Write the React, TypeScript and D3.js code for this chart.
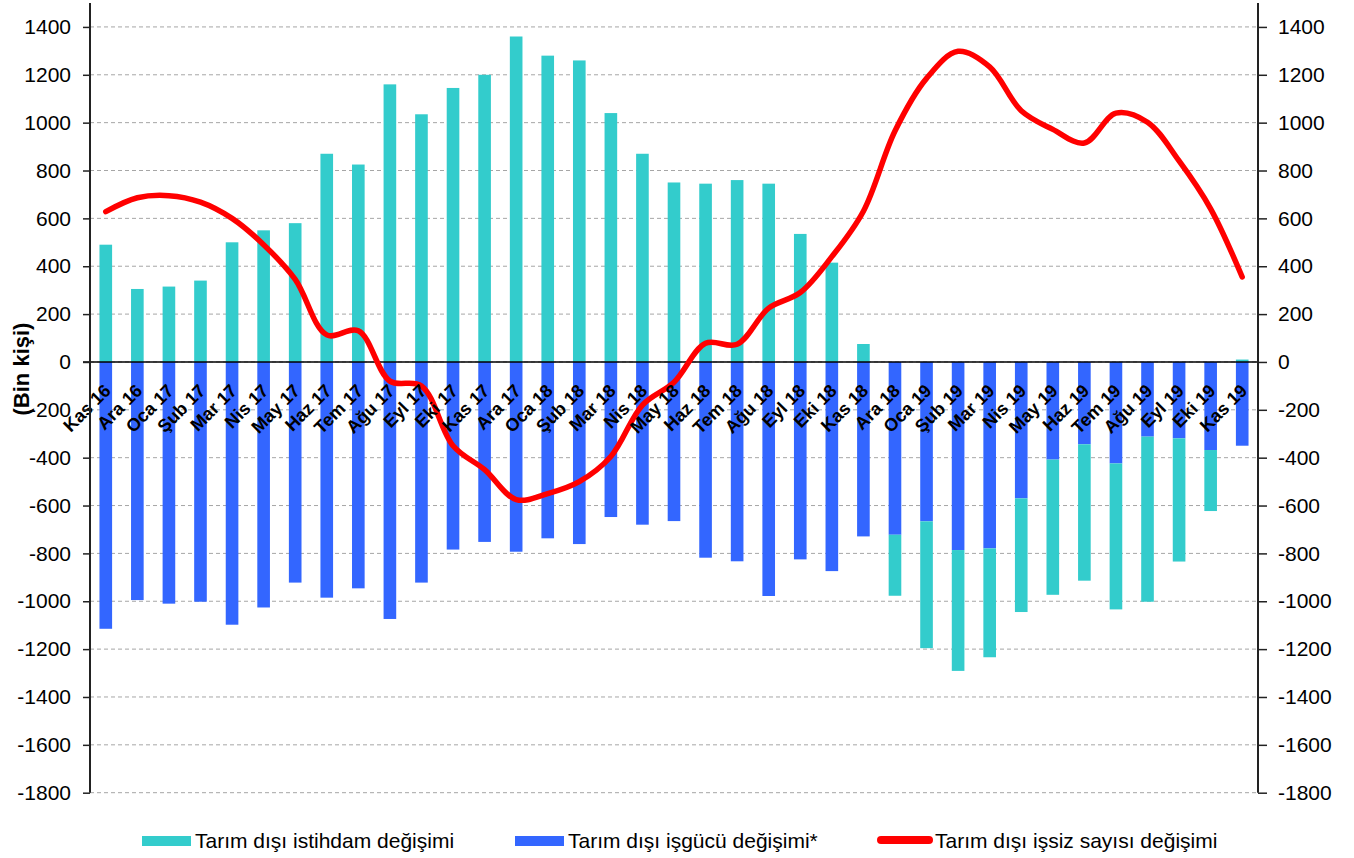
import { useEffect, useRef } from "react";
import * as d3 from "d3";

const months = [
  "Kas 16", "Ara 16", "Oca 17", "Şub 17", "Mar 17", "Nis 17", "May 17", "Haz 17",
  "Tem 17", "Ağu 17", "Eyl 17", "Eki 17", "Kas 17", "Ara 17", "Oca 18", "Şub 18",
  "Mar 18", "Nis 18", "May 18", "Haz 18", "Tem 18", "Ağu 18", "Eyl 18", "Eki 18",
  "Kas 18", "Ara 18", "Oca 19", "Şub 19", "Mar 19", "Nis 19", "May 19", "Haz 19",
  "Tem 19", "Ağu 19", "Eyl 19", "Eki 19", "Kas 19",
];

// Tarım dışı istihdam değişimi (teal)
const employment = [
  490, 305, 315, 340, 500, 550, 580, 870, 825, 1160, 1035, 1145, 1200, 1360, 1280, 1260,
  1040, 870, 750, 745, 760, 745, 535, 415, 75, -255, -530, -505, -455, -475, -565, -570,
  -610, -690, -515, -255, 10,
];

// Tarım dışı işgücü değişimi* (blue, plotted with reversed sign)
const labourForce = [
  -1115, -995, -1010, -1002, -1098, -1026, -922, -985, -946, -1074, -922, -784, -752, -793,
  -737, -761, -648, -680, -665, -818, -833, -978, -825, -874, -729, -722, -666, -786, -779,
  -570, -408, -344, -424, -312, -319, -368, -350,
];

// Tarım dışı işsiz sayısı değişimi (red line)
const unemployed = [
  628, 686, 695, 668, 600, 490, 345, 113, 130, -80, -100, -350, -450, -575, -550, -500,
  -395, -180, -85, 78, 74, 225, 290, 440, 630, 965, 1185, 1298, 1233, 1050, 972, 915,
  1040, 1002, 840, 640, 355,
];

const yTicks = d3.range(-1800, 1401, 200);

const legendItems = [
  { label: "Tarım dışı istihdam değişimi", color: "#33CCCC", kind: "rect" },
  { label: "Tarım dışı işgücü değişimi*", color: "#3366FF", kind: "rect" },
  { label: "Tarım dışı işsiz sayısı değişimi", color: "#FF0000", kind: "line" },
];

const W = 1354;
const H = 858;
const FONT = "'Liberation Sans', Arial, sans-serif";

export default function App() {
  const svgRef = useRef<SVGSVGElement>(null);

  useEffect(() => {
    if (!svgRef.current) return;
    const svg = d3.select(svgRef.current);
    svg.selectAll("*").remove();

    const left = 90;
    const right = 1258;
    const x = d3
      .scaleBand<string>()
      .domain(months)
      .range([left, right])
      .paddingInner(0.6)
      .paddingOuter(0.3);
    const y = d3.scaleLinear().domain([-1800, 1500]).range([792.7, 3]);
    const cx = (m: string) => (x(m) ?? 0) + x.bandwidth() / 2;

    // gridlines
    svg
      .append("g")
      .selectAll("line")
      .data(yTicks)
      .join("line")
      .attr("x1", left)
      .attr("x2", right)
      .attr("y1", (d) => y(d))
      .attr("y2", (d) => y(d))
      .attr("stroke", "#a6a6a6")
      .attr("stroke-width", 1)
      .attr("stroke-dasharray", "4 3");

    // stacked bars: labour force first, then employment
    const rows = months.map((m, i) => ({ month: m, lf: labourForce[i], emp: employment[i] }));
    const series = d3
      .stack<any>()
      .keys(["lf", "emp"])
      .offset(d3.stackOffsetDiverging)(rows);
    const colors: Record<string, string> = { lf: "#3366FF", emp: "#33CCCC" };

    svg
      .append("g")
      .selectAll("g")
      .data(series)
      .join("g")
      .attr("fill", (s) => colors[s.key])
      .selectAll("rect")
      .data((s) => s)
      .join("rect")
      .attr("x", (d) => x(d.data.month) ?? 0)
      .attr("width", x.bandwidth())
      .attr("y", (d) => y(Math.max(d[0], d[1])))
      .attr("height", (d) => Math.abs(y(d[0]) - y(d[1])));

    // zero line
    svg
      .append("line")
      .attr("x1", left - 7)
      .attr("x2", right)
      .attr("y1", y(0))
      .attr("y2", y(0))
      .attr("stroke", "#000")
      .attr("stroke-width", 1.5);

    // red smoothed line
    const line = d3
      .line<number>()
      .x((_, i) => cx(months[i]))
      .y((d) => y(d))
      .curve(d3.curveCatmullRom.alpha(0.5));
    svg
      .append("path")
      .datum(unemployed)
      .attr("d", line)
      .attr("fill", "none")
      .attr("stroke", "#FF0000")
      .attr("stroke-width", 5.5)
      .attr("stroke-linejoin", "round")
      .attr("stroke-linecap", "round");

    // category labels
    svg
      .append("g")
      .selectAll("text")
      .data(months)
      .join("text")
      .attr("transform", (m) => `translate(${cx(m) + 6},${y(0) + 30}) rotate(-45)`)
      .attr("text-anchor", "end")
      .attr("font-family", FONT)
      .attr("font-weight", "bold")
      .attr("font-size", 18)
      .attr("fill", "#000")
      .text((m) => m);

    // axes
    const leftAxis = d3.axisLeft(y).tickValues(yTicks).tickSize(7).tickPadding(12).tickFormat(d3.format("d"));
    const rightAxis = d3.axisRight(y).tickValues(yTicks).tickSize(9).tickPadding(11).tickFormat(d3.format("d"));
    for (const [ax, pos] of [
      [leftAxis, left],
      [rightAxis, right],
    ] as const) {
      const g = svg.append("g").attr("transform", `translate(${pos},0)`).call(ax as any);
      g.select(".domain").remove();
      g.selectAll(".tick line").attr("stroke", "#222").attr("stroke-width", 1.5);
      g.selectAll(".tick text")
        .attr("font-family", FONT)
        .attr("font-size", 21)
        .attr("fill", "#000")
        .text((d: any) => (d < 0 ? "-" + Math.abs(d) : String(d)));
      g.append("line")
        .attr("y1", y(1500))
        .attr("y2", y(-1800))
        .attr("stroke", "#222")
        .attr("stroke-width", 2);
    }

    // y-axis title
    svg
      .append("text")
      .attr("transform", `translate(29,${369}) rotate(-90)`)
      .attr("text-anchor", "middle")
      .attr("font-family", FONT)
      .attr("font-weight", "bold")
      .attr("font-size", 22)
      .text("(Bin kişi)");

    // legend
    const legendX = [142, 515, 877];
    const lg = svg
      .append("g")
      .selectAll("g")
      .data(legendItems)
      .join("g")
      .attr("transform", (_, i) => `translate(${legendX[i]},841)`);
    lg.filter((d) => d.kind === "rect")
      .append("rect")
      .attr("x", 0)
      .attr("y", -5)
      .attr("width", 49)
      .attr("height", 10)
      .attr("fill", (d) => d.color);
    lg.filter((d) => d.kind === "line")
      .append("line")
      .attr("x1", 4)
      .attr("x2", 52)
      .attr("y1", -1)
      .attr("y2", -1)
      .attr("stroke", (d) => d.color)
      .attr("stroke-width", 8)
      .attr("stroke-linecap", "round");
    lg.append("text")
      .attr("x", (d) => (d.kind === "line" ? 58 : 53))
      .attr("y", 7)
      .attr("font-family", FONT)
      .attr("font-size", 21)
      .attr("fill", "#000")
      .text((d) => d.label);
  }, []);

  return (
    <svg
      ref={svgRef}
      width={W}
      height={H}
      style={{ position: "absolute", left: 0, top: 0, background: "#fff" }}
    />
  );
}
